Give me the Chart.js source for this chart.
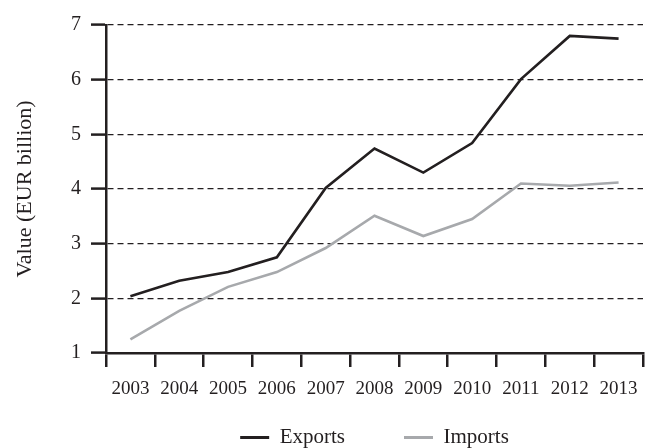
<!DOCTYPE html>
<html>
<head>
<meta charset="utf-8">
<script src="https://cdn.jsdelivr.net/npm/chart.js@4/dist/chart.umd.min.js"></script>
<style>
  html, body { margin: 0; padding: 0; background: #ffffff; }
  #wrap { width: 656px; height: 448px; position: relative; }
</style>
</head>
<body>
<div id="wrap"><canvas id="c"></canvas></div>
<script>
const years = ['2003','2004','2005','2006','2007','2008','2009','2010','2011','2012','2013'];
const exportsValues = [2.04, 2.32, 2.48, 2.75, 4.02, 4.74, 4.30, 4.84, 6.01, 6.80, 6.75];
const importsValues = [1.25, 1.77, 2.21, 2.48, 2.92, 3.51, 3.14, 3.45, 4.10, 4.06, 4.12];
const seriesNames = ['Exports', 'Imports'];
const yTitle = 'Value (EUR billion)';

const DARK = '#231f20';
const GREY = '#a7a9ac';
const FONT = "'Liberation Serif', 'Times New Roman', serif";

// Let the x-axis tick labels draw below the (compact) x-axis layout box.
const extendXAxisClip = {
  id: 'extendXAxisClip',
  afterLayout(chart) {
    const x = chart.scales.x;
    x.bottom = chart.height;
    x.height = x.bottom - x.top;
  }
};

new Chart(document.getElementById('c'), {
  type: 'line',
  data: {
    labels: years,
    datasets: [
      { label: seriesNames[0], data: exportsValues, borderColor: DARK, backgroundColor: DARK,
        borderWidth: 2.6, pointRadius: 0, tension: 0 },
      { label: seriesNames[1], data: importsValues, borderColor: GREY, backgroundColor: GREY,
        borderWidth: 2.6, pointRadius: 0, tension: 0 }
    ]
  },
  plugins: [extendXAxisClip],
  options: {
    responsive: true,
    maintainAspectRatio: false,
    animation: false,
    layout: { padding: { left: 0, right: 13, top: 25, bottom: -10 } },
    plugins: {
      tooltip: { enabled: false },
      legend: {
        position: 'bottom',
        fullSize: false,
        labels: {
          color: DARK,
          font: { family: FONT, size: 21 },
          boxWidth: 29,
          boxHeight: 3,
          padding: 59,
          generateLabels: (chart) => {
            const items = Chart.defaults.plugins.legend.labels.generateLabels(chart);
            return items.map(it => Object.assign(it, { lineWidth: 0, fillStyle: it.strokeStyle }));
          }
        }
      }
    },
    scales: {
      x: {
        type: 'category',
        offset: true,
        afterFit: (s) => { s.height = 15; },
        grid: {
          display: true,
          offset: true,
          drawOnChartArea: false,
          drawTicks: true,
          tickLength: 14,
          tickWidth: 2.5,
          tickColor: DARK,
          lineWidth: 2.5,
          color: DARK
        },
        border: { display: true, color: DARK, width: 2.5 },
        ticks: {
          color: DARK,
          font: { family: FONT, size: 19 },
          padding: 11,
          maxRotation: 0,
          autoSkip: false
        }
      },
      y: {
        min: 1,
        max: 7,
        afterFit: (s) => { s.width = 106; },
        grid: {
          display: true,
          drawOnChartArea: true,
          color: DARK,
          lineWidth: 1.2,
          drawTicks: true,
          tickLength: 15,
          tickWidth: 2.5,
          tickColor: DARK,
          tickBorderDash: []
        },
        border: { display: true, color: DARK, width: 2.5, dash: [6, 4] },
        ticks: {
          stepSize: 1,
          color: DARK,
          font: { family: FONT, size: 20 },
          padding: 10
        },
        title: {
          display: true,
          text: yTitle,
          color: DARK,
          font: { family: FONT, size: 22 },
          padding: { top: 12, bottom: 0 }
        }
      }
    }
  }
});
</script>
</body>
</html>
